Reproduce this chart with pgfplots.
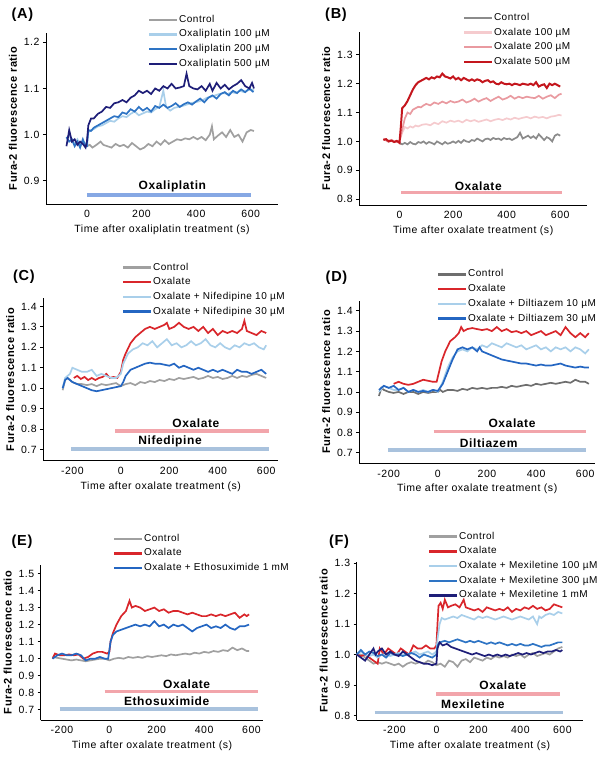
\documentclass[border=0pt]{standalone}
\usepackage{fontspec}
\setmainfont{Liberation Sans}[LetterSpace=5]
\usepackage{pgfplots}
\pgfplotsset{compat=1.18}
\definecolor{ctrl}{HTML}{A0A0A0}
\definecolor{ctrld}{HTML}{6E6E6E}
\definecolor{oxred}{HTML}{D9262B}
\definecolor{dred}{HTML}{C4161D}
\definecolor{pinkA}{HTML}{F5CBCE}
\definecolor{pinkB}{HTML}{E99AA0}
\definecolor{lblue}{HTML}{A9CFEA}
\definecolor{mblue}{HTML}{2E74C4}
\definecolor{bblue}{HTML}{2466C2}
\definecolor{navy}{HTML}{1E1E78}
\definecolor{barblue}{HTML}{86A8E4}
\definecolor{barpink}{HTML}{F2A5AB}
\definecolor{bargray}{HTML}{A9C2DD}
\tikzset{barlab/.style={font=\bfseries\fontsize{12}{13}\selectfont}}
\pgfplotsset{
  panel/.style={
    scale only axis, axis lines=left, axis line style={-, line width=0.9pt},
    tick align=outside, major tick length=3pt,
    ytick style={line width=0.8pt, black}, xtick style={draw=none},
    tick label style={font=\fontsize{10.5}{12}\selectfont},
    /pgf/number format/assume math mode=true,
    yticklabel style={/pgf/number format/fixed, /pgf/number format/fixed zerofill, /pgf/number format/precision=1},
    xlabel style={font=\fontsize{10.5}{12}\selectfont, yshift=0pt},
    ylabel style={font=\bfseries\fontsize{11}{12}\selectfont},
    ylabel={Fura-2 fluorescence ratio},
    xlabel={Time after oxalate treatment (s)},
    legend cell align=left,
    legend style={draw=none, fill=none, inner sep=0pt, anchor=north west,
      font=\fontsize{10}{11}\selectfont,
      nodes={inner xsep=0.5pt, inner ysep=0pt, text height=7pt, text depth=2pt},
      row sep=5.7pt},
    legend image code/.code={\draw[#1, line width=2.4pt] (0pt,0pt) -- (28pt,0pt);},
    every axis plot/.append style={line width=1.7pt},
    clip=false,
  },
  hbar/.style={line width=3.6pt, forget plot},
}
\begin{document}
\begin{tikzpicture}[x=1pt,y=1pt]
\useasboundingbox (0,0) rectangle (600,757);
\node[font=\bfseries\fontsize{14.5}{16}\selectfont] at (22.5,742) {(A)};
\node[font=\bfseries\fontsize{14.5}{16}\selectfont] at (336,742) {(B)};
\node[font=\bfseries\fontsize{14.5}{16}\selectfont] at (24,480) {(C)};
\node[font=\bfseries\fontsize{14.5}{16}\selectfont] at (336.5,479) {(D)};
\node[font=\bfseries\fontsize{14.5}{16}\selectfont] at (22,215) {(E)};
\node[font=\bfseries\fontsize{14.5}{16}\selectfont] at (339,215) {(F)};

% ---------------- A
\begin{axis}[panel, at={(46pt,553pt)}, anchor=south west, width=232pt, height=171pt,
  xmin=-150, xmax=700, ymin=0.85, ymax=1.22, xtick={0,200,400,600}, ytick={0.9,1.0,1.1,1.2},
  xlabel={Time after oxaliplatin treatment (s)},
  legend style={at={(0.44,1.105)}}]
\addplot[ctrl] coordinates {(0,0.975)(10,0.978)(20,0.972)(35,0.978)(50,0.985)(60,0.978)(75,0.975)(90,0.972)(105,0.980)(120,0.975)(135,0.978)(150,0.972)(165,0.982)(180,0.975)(195,0.968)(210,0.972)(225,0.980)(240,0.975)(255,0.985)(270,0.978)(285,0.988)(300,0.980)(315,0.985)(330,0.990)(345,0.988)(360,0.992)(375,0.990)(390,0.995)(405,0.990)(420,0.995)(435,0.988)(450,1.000)(458,1.018)(465,0.990)(480,0.998)(495,1.005)(510,0.995)(525,1.010)(540,0.995)(555,1.000)(570,0.985)(585,1.005)(600,1.010)(612,1.008)};
\addlegendentry{Control}
\addplot[lblue] coordinates {(-75,0.990)(-65,1.000)(-55,0.985)(-45,0.980)(-35,0.990)(-25,0.978)(-15,0.985)(-5,0.980)(0,0.985)(5,1.005)(15,1.010)(25,1.012)(40,1.018)(55,1.020)(70,1.025)(85,1.030)(100,1.028)(115,1.035)(130,1.040)(145,1.038)(160,1.045)(175,1.050)(190,1.042)(205,1.046)(220,1.050)(235,1.048)(250,1.055)(265,1.060)(280,1.095)(290,1.060)(305,1.052)(320,1.058)(335,1.060)(350,1.062)(365,1.065)(380,1.068)(395,1.070)(410,1.072)(425,1.075)(440,1.080)(455,1.082)(470,1.085)(485,1.088)(500,1.090)(515,1.088)(530,1.092)(545,1.090)(560,1.095)(575,1.092)(590,1.096)(605,1.098)(612,1.095)};
\addlegendentry{Oxaliplatin 100 µM}
\addplot[mblue] coordinates {(-75,0.995)(-65,0.985)(-55,0.990)(-45,0.975)(-35,0.985)(-25,0.972)(-15,0.990)(-5,0.975)(0,0.975)(5,1.010)(15,1.008)(25,1.015)(40,1.020)(55,1.025)(70,1.030)(85,1.035)(100,1.040)(115,1.038)(130,1.048)(145,1.045)(160,1.055)(175,1.050)(190,1.060)(205,1.052)(220,1.058)(235,1.050)(250,1.062)(265,1.058)(280,1.065)(295,1.058)(310,1.062)(325,1.068)(340,1.060)(355,1.066)(370,1.070)(385,1.065)(400,1.072)(415,1.078)(430,1.070)(445,1.080)(460,1.085)(475,1.078)(490,1.088)(505,1.092)(520,1.085)(535,1.095)(550,1.090)(565,1.098)(580,1.092)(595,1.100)(610,1.092)};
\addlegendentry{Oxaliplatin 200 µM}
\addplot[navy] coordinates {(-75,0.975)(-65,1.010)(-55,0.985)(-45,0.990)(-35,0.978)(-25,0.985)(-15,0.980)(-5,0.972)(0,0.985)(5,1.020)(15,1.035)(25,1.035)(40,1.045)(55,1.050)(70,1.060)(85,1.058)(100,1.068)(115,1.070)(130,1.075)(145,1.070)(160,1.080)(175,1.085)(190,1.095)(205,1.090)(220,1.095)(235,1.088)(250,1.100)(265,1.095)(280,1.105)(295,1.100)(310,1.110)(325,1.100)(340,1.102)(355,1.105)(365,1.132)(375,1.105)(390,1.100)(405,1.098)(420,1.105)(435,1.095)(450,1.110)(460,1.095)(475,1.112)(490,1.100)(505,1.108)(520,1.098)(535,1.105)(550,1.110)(565,1.118)(580,1.105)(595,1.100)(605,1.112)(612,1.100)};
\addlegendentry{Oxaliplatin 500 µM}
\addplot[hbar, barblue] coordinates {(0,0.870)(600,0.870)};
\node[barlab] at (axis cs:313,0.887) {Oxaliplatin};
\end{axis}

% ---------------- B
\begin{axis}[panel, at={(359.3pt,552pt)}, anchor=south west, width=227.7pt, height=173.3pt,
  xmin=-150, xmax=700, ymin=0.78, ymax=1.38, xtick={0,200,400,600}, ytick={0.8,0.9,1.0,1.1,1.2,1.3},
  legend style={at={(0.455,1.107)}}]
\addplot[ctrld!80] coordinates {(0,0.995)(10,0.990)(20,0.995)(30,0.990)(40,0.998)(50,0.992)(60,0.990)(70,0.998)(80,0.995)(90,1.000)(100,0.992)(110,0.998)(120,0.995)(130,0.990)(140,1.000)(150,0.995)(160,0.990)(170,0.998)(180,0.992)(190,0.995)(200,1.000)(210,0.995)(220,1.002)(230,0.995)(240,1.005)(250,1.000)(260,0.998)(270,1.005)(280,1.002)(290,1.010)(300,1.005)(310,1.000)(320,1.008)(330,1.010)(340,1.005)(350,1.012)(360,1.008)(370,1.010)(380,1.005)(390,1.012)(400,1.008)(410,1.010)(420,1.005)(430,1.010)(440,1.015)(450,1.030)(460,1.010)(470,1.015)(480,1.020)(490,1.012)(500,1.018)(510,1.010)(520,1.025)(530,1.015)(540,1.005)(550,1.015)(560,1.010)(570,1.000)(580,1.020)(590,1.025)(600,1.020)};
\addlegendentry{Control}
\addplot[pinkA] coordinates {(-60,1.010)(-45,1.002)(-30,1.006)(-15,0.998)(0,1.000)(10,1.030)(20,1.050)(30,1.045)(40,1.052)(50,1.048)(60,1.055)(70,1.052)(85,1.058)(100,1.060)(115,1.056)(130,1.065)(145,1.060)(160,1.070)(175,1.065)(190,1.072)(205,1.068)(220,1.072)(235,1.066)(250,1.075)(265,1.070)(280,1.074)(295,1.068)(310,1.072)(325,1.076)(340,1.070)(355,1.075)(370,1.078)(385,1.074)(400,1.080)(415,1.076)(430,1.082)(445,1.078)(460,1.082)(475,1.085)(490,1.080)(505,1.086)(520,1.082)(535,1.085)(550,1.080)(565,1.086)(580,1.088)(595,1.092)(605,1.090)};
\addlegendentry{Oxalate 100 µM}
\addplot[pinkB] coordinates {(-60,1.010)(-45,1.000)(-30,1.005)(-15,0.998)(0,1.000)(10,1.040)(20,1.080)(30,1.100)(40,1.095)(50,1.110)(60,1.115)(70,1.120)(80,1.118)(90,1.125)(100,1.130)(115,1.125)(130,1.135)(145,1.130)(160,1.138)(175,1.132)(190,1.140)(205,1.135)(220,1.138)(235,1.145)(250,1.135)(265,1.140)(280,1.148)(295,1.138)(310,1.145)(325,1.150)(340,1.140)(355,1.148)(370,1.155)(385,1.145)(400,1.150)(415,1.158)(430,1.148)(445,1.155)(460,1.150)(475,1.155)(490,1.152)(505,1.150)(520,1.158)(535,1.148)(550,1.155)(565,1.160)(580,1.150)(595,1.162)(605,1.165)};
\addlegendentry{Oxalate 200 µM}
\addplot[dred, line width=2pt] coordinates {(-60,1.005)(-50,1.008)(-40,1.000)(-30,1.003)(-20,0.998)(-10,1.002)(0,0.995)(5,1.050)(10,1.115)(20,1.125)(30,1.140)(40,1.160)(50,1.180)(60,1.195)(70,1.205)(80,1.210)(90,1.215)(100,1.220)(110,1.215)(120,1.222)(130,1.218)(140,1.225)(150,1.222)(160,1.235)(170,1.225)(180,1.222)(190,1.218)(200,1.225)(210,1.215)(220,1.220)(230,1.212)(240,1.220)(250,1.215)(260,1.210)(270,1.215)(280,1.210)(290,1.215)(300,1.212)(310,1.205)(320,1.210)(330,1.212)(340,1.205)(350,1.208)(360,1.200)(370,1.198)(380,1.205)(390,1.200)(400,1.198)(410,1.200)(420,1.195)(430,1.200)(440,1.198)(450,1.195)(460,1.200)(470,1.198)(480,1.196)(490,1.200)(500,1.195)(510,1.205)(520,1.190)(530,1.195)(540,1.198)(550,1.185)(560,1.200)(570,1.195)(580,1.200)(590,1.195)(600,1.190)};
\addlegendentry{Oxalate 500 µM}
\addplot[hbar, barpink] coordinates {(6,0.823)(606,0.823)};
\node[barlab] at (axis cs:294,0.844) {Oxalate};
\end{axis}

% ---------------- C
\begin{axis}[panel, at={(43.3pt,296.3pt)}, anchor=south west, width=235pt, height=162.4pt,
  xmin=-320, xmax=650, ymin=0.645, ymax=1.44, xtick={-200,0,200,400,600}, ytick={0.7,0.8,0.9,1.0,1.1,1.2,1.3,1.4},
  legend style={at={(0.335,1.218)}}]
\addplot[ctrl] coordinates {(-240,0.99)(-230,1.04)(-220,1.05)(-210,1.04)(-200,1.03)(-180,1.02)(-160,1.02)(-140,1.015)(-120,1.02)(-100,1.01)(-80,1.02)(-60,1.015)(-40,1.02)(-20,1.025)(0,1.01)(20,1.02)(40,1.025)(60,1.015)(80,1.03)(100,1.025)(120,1.035)(140,1.03)(160,1.04)(180,1.035)(200,1.045)(220,1.04)(240,1.05)(260,1.045)(280,1.05)(300,1.055)(320,1.045)(340,1.05)(360,1.06)(380,1.05)(400,1.055)(420,1.045)(440,1.05)(460,1.06)(480,1.05)(500,1.06)(520,1.055)(540,1.065)(560,1.07)(580,1.06)(600,1.05)};
\addlegendentry{Control}
\addplot[oxred] coordinates {(-194,1.05)(-180,1.06)(-165,1.045)(-150,1.055)(-135,1.04)(-120,1.05)(-105,1.04)(-90,1.05)(-75,1.055)(-60,1.07)(-45,1.05)(-30,1.055)(-15,1.05)(0,1.08)(10,1.14)(20,1.17)(40,1.22)(60,1.25)(80,1.27)(100,1.29)(120,1.30)(140,1.29)(160,1.30)(180,1.31)(190,1.32)(200,1.29)(220,1.30)(240,1.32)(260,1.30)(280,1.29)(300,1.30)(320,1.28)(340,1.30)(360,1.27)(380,1.29)(400,1.26)(420,1.28)(440,1.27)(460,1.28)(480,1.27)(500,1.29)(510,1.33)(520,1.28)(540,1.27)(560,1.26)(580,1.28)(600,1.27)};
\addlegendentry{Oxalate}
\addplot[lblue] coordinates {(-240,1.00)(-230,1.05)(-210,1.07)(-200,1.10)(-180,1.09)(-160,1.08)(-140,1.08)(-120,1.09)(-100,1.06)(-80,1.07)(-60,1.06)(-40,1.05)(-20,1.05)(0,1.07)(10,1.12)(30,1.17)(50,1.19)(70,1.20)(90,1.22)(110,1.21)(130,1.23)(150,1.20)(170,1.22)(190,1.24)(210,1.21)(230,1.22)(250,1.20)(270,1.21)(290,1.23)(310,1.21)(330,1.22)(350,1.24)(370,1.21)(390,1.20)(410,1.22)(430,1.20)(450,1.19)(470,1.21)(490,1.20)(510,1.22)(530,1.21)(550,1.22)(570,1.20)(590,1.19)(600,1.21)};
\addlegendentry{Oxalate + Nifedipine 10 µM}
\addplot[bblue] coordinates {(-240,1.00)(-230,1.04)(-220,1.05)(-210,1.04)(-200,1.03)(-180,1.02)(-160,1.01)(-140,1.00)(-120,0.99)(-100,0.985)(-80,0.99)(-60,0.995)(-40,1.00)(-20,1.005)(0,1.01)(10,1.03)(20,1.06)(40,1.09)(60,1.10)(80,1.11)(100,1.12)(120,1.125)(140,1.12)(160,1.12)(180,1.115)(200,1.11)(220,1.12)(240,1.10)(260,1.11)(280,1.10)(300,1.09)(320,1.10)(340,1.09)(360,1.08)(380,1.09)(400,1.08)(420,1.09)(440,1.08)(460,1.07)(480,1.09)(500,1.08)(520,1.08)(540,1.07)(560,1.08)(580,1.09)(600,1.07)};
\addlegendentry{Oxalate + Nifedipine 30 µM}
\addplot[hbar, barpink] coordinates {(-22,0.791)(610,0.791)};
\addplot[hbar, bargray] coordinates {(-206,0.701)(610,0.701)};
\node[barlab] at (axis cs:310,0.828) {Oxalate};
\node[barlab] at (axis cs:203,0.738) {Nifedipine};
\end{axis}

% ---------------- D
\begin{axis}[panel, at={(359.3pt,293.7pt)}, anchor=south west, width=235.7pt, height=162.6pt,
  xmin=-320, xmax=640, ymin=0.648, ymax=1.45, xtick={-200,0,200,400,600}, ytick={0.7,0.8,0.9,1.0,1.1,1.2,1.3,1.4},
  legend style={at={(0.33,1.19)}}]
\addplot[ctrld] coordinates {(-240,0.98)(-230,1.02)(-220,1.01)(-200,1.00)(-180,0.995)(-160,1.00)(-140,0.99)(-120,1.00)(-100,1.00)(-80,0.99)(-60,1.00)(-40,0.995)(-20,1.00)(0,1.00)(10,1.01)(20,1.00)(40,1.01)(60,1.01)(80,1.005)(100,1.015)(120,1.01)(140,1.02)(160,1.015)(180,1.02)(200,1.015)(220,1.02)(240,1.02)(260,1.025)(280,1.02)(300,1.03)(320,1.025)(340,1.03)(360,1.035)(380,1.03)(400,1.04)(420,1.035)(440,1.04)(460,1.045)(480,1.04)(500,1.045)(520,1.05)(540,1.045)(560,1.06)(580,1.05)(600,1.05)(615,1.04)};
\addlegendentry{Control}
\addplot[oxred] coordinates {(-180,1.04)(-160,1.05)(-140,1.04)(-120,1.035)(-100,1.04)(-80,1.05)(-60,1.06)(-40,1.055)(-20,1.05)(-5,1.05)(5,1.10)(15,1.15)(30,1.20)(50,1.25)(70,1.27)(85,1.29)(95,1.32)(105,1.30)(120,1.31)(140,1.315)(160,1.31)(180,1.305)(200,1.31)(220,1.30)(240,1.32)(260,1.30)(280,1.31)(300,1.295)(320,1.30)(340,1.29)(360,1.30)(380,1.28)(400,1.29)(420,1.30)(440,1.28)(460,1.29)(480,1.30)(500,1.28)(520,1.32)(540,1.29)(560,1.27)(580,1.29)(600,1.27)(615,1.29)};
\addlegendentry{Oxalate}
\addplot[lblue] coordinates {(-240,1.00)(-220,1.03)(-200,1.02)(-180,1.01)(-160,1.01)(-140,1.02)(-120,1.00)(-100,1.01)(-80,1.00)(-60,1.01)(-40,1.00)(-20,1.01)(0,1.00)(20,1.05)(40,1.12)(60,1.17)(80,1.20)(100,1.21)(120,1.20)(140,1.22)(160,1.21)(180,1.23)(200,1.22)(220,1.24)(240,1.23)(260,1.22)(280,1.24)(300,1.23)(320,1.22)(340,1.23)(360,1.21)(380,1.22)(400,1.23)(420,1.21)(440,1.22)(460,1.20)(480,1.22)(500,1.21)(520,1.22)(540,1.20)(560,1.22)(580,1.21)(600,1.19)(615,1.21)};
\addlegendentry{Oxalate + Diltiazem 10 µM}
\addplot[bblue] coordinates {(-240,1.01)(-220,1.03)(-200,1.02)(-180,1.03)(-160,1.01)(-140,1.02)(-120,1.00)(-100,1.01)(-80,1.00)(-60,1.005)(-40,1.00)(-20,1.01)(0,1.005)(20,1.04)(40,1.10)(60,1.16)(80,1.21)(100,1.22)(120,1.21)(140,1.22)(160,1.20)(170,1.22)(180,1.20)(200,1.19)(220,1.18)(240,1.17)(260,1.16)(280,1.155)(300,1.15)(320,1.145)(340,1.14)(360,1.14)(380,1.135)(400,1.13)(420,1.135)(440,1.13)(460,1.13)(480,1.135)(500,1.14)(520,1.13)(540,1.125)(560,1.12)(580,1.125)(600,1.12)(615,1.12)};
\addlegendentry{Oxalate + Diltiazem 30 µM}
\addplot[hbar, barpink] coordinates {(-17,0.804)(604,0.804)};
\addplot[hbar, bargray] coordinates {(-204,0.713)(604,0.713)};
\node[barlab] at (axis cs:302,0.845) {Oxalate};
\node[barlab] at (axis cs:207,0.749) {Diltiazem};
\end{axis}

% ---------------- E
\begin{axis}[panel, at={(40.7pt,37pt)}, anchor=south west, width=222.6pt, height=155pt,
  xmin=-290, xmax=650, ymin=0.64, ymax=1.55, xtick={-200,0,200,400,600}, ytick={0.7,0.8,0.9,1.0,1.1,1.2,1.3,1.4,1.5},
  legend style={at={(0.325,1.2)}}]
\addplot[ctrl] coordinates {(-240,1.01)(-220,1.005)(-200,1.00)(-180,0.995)(-160,0.99)(-140,0.995)(-120,0.99)(-100,0.985)(-80,0.99)(-60,0.995)(-40,1.00)(-20,1.00)(0,0.99)(20,1.00)(40,1.005)(60,1.00)(80,1.01)(100,1.005)(120,1.01)(140,1.005)(160,1.015)(180,1.01)(200,1.015)(220,1.02)(240,1.015)(260,1.025)(280,1.02)(300,1.025)(320,1.03)(340,1.025)(360,1.035)(380,1.03)(400,1.04)(420,1.035)(440,1.045)(460,1.04)(480,1.05)(500,1.045)(520,1.065)(540,1.05)(560,1.06)(580,1.045)(590,1.045)};
\addlegendentry{Control}
\addplot[oxred] coordinates {(-240,1.00)(-230,1.03)(-210,1.02)(-190,1.02)(-170,1.025)(-150,1.02)(-130,1.025)(-110,1.00)(-90,1.01)(-70,1.03)(-50,1.04)(-30,1.04)(-10,1.03)(0,1.04)(5,1.10)(15,1.15)(30,1.20)(50,1.25)(70,1.28)(85,1.34)(95,1.30)(110,1.31)(130,1.30)(150,1.28)(170,1.29)(190,1.30)(210,1.28)(230,1.29)(250,1.27)(270,1.28)(290,1.28)(310,1.27)(330,1.26)(350,1.27)(370,1.26)(390,1.25)(410,1.25)(430,1.26)(450,1.25)(470,1.26)(490,1.25)(510,1.26)(530,1.27)(550,1.24)(570,1.26)(580,1.25)(590,1.26)};
\addlegendentry{Oxalate}
\addplot[bblue] coordinates {(-240,1.00)(-220,1.02)(-200,1.03)(-180,1.02)(-160,1.02)(-140,1.03)(-120,1.02)(-100,0.99)(-80,1.00)(-60,1.00)(-40,1.01)(-20,1.00)(-5,1.00)(5,1.10)(15,1.14)(30,1.16)(50,1.17)(70,1.18)(90,1.19)(110,1.20)(130,1.19)(150,1.20)(170,1.19)(190,1.22)(210,1.19)(230,1.20)(250,1.18)(270,1.20)(290,1.19)(310,1.20)(330,1.18)(350,1.16)(370,1.18)(390,1.19)(410,1.20)(430,1.18)(450,1.19)(470,1.18)(490,1.20)(510,1.18)(530,1.17)(550,1.19)(570,1.19)(590,1.20)};
\addlegendentry{Oxalate + Ethosuximide 1 mM}
\addplot[hbar, barpink] coordinates {(-20,0.807)(628,0.807)};
\addplot[hbar, bargray] coordinates {(-210,0.704)(628,0.704)};
\node[barlab] at (axis cs:326,0.852) {Oxalate};
\node[barlab] at (axis cs:242,0.748) {Ethosuximide};
\end{axis}

% ---------------- F
\begin{axis}[panel, at={(356.7pt,37pt)}, anchor=south west, width=226.6pt, height=158.3pt,
  xmin=-380, xmax=700, ymin=0.785, ymax=1.305, xtick={-200,0,200,400,600}, ytick={0.8,0.9,1.0,1.1,1.2,1.3},
  legend style={at={(0.315,1.188)}}]
\addplot[ctrl] coordinates {(-380,1.00)(-360,1.00)(-340,0.99)(-320,0.98)(-300,0.97)(-280,0.975)(-260,0.97)(-240,0.975)(-220,0.97)(-200,0.965)(-180,0.97)(-160,0.96)(-140,0.97)(-120,0.975)(-100,0.97)(-80,0.975)(-60,0.97)(-40,0.98)(-20,0.975)(0,0.965)(20,0.97)(40,0.96)(60,0.98)(80,0.975)(100,0.96)(120,0.98)(140,0.985)(160,0.975)(180,0.99)(200,0.985)(220,0.98)(240,0.99)(260,0.985)(280,0.995)(300,0.99)(320,0.995)(340,0.99)(360,1.00)(380,0.995)(400,1.00)(420,0.99)(440,1.00)(460,1.005)(480,0.995)(500,1.00)(520,1.005)(540,1.00)(560,1.01)(580,1.02)(600,1.025)};
\addlegendentry{Control}
\addplot[oxred] coordinates {(-380,1.00)(-360,0.995)(-340,1.00)(-320,0.99)(-300,0.98)(-280,0.97)(-270,1.02)(-250,1.00)(-230,1.02)(-210,1.01)(-190,1.00)(-170,1.02)(-150,1.01)(-130,1.00)(-110,1.03)(-90,1.02)(-70,1.02)(-50,1.03)(-30,1.02)(-10,1.02)(0,1.03)(5,1.10)(10,1.16)(20,1.17)(30,1.15)(40,1.18)(55,1.155)(70,1.16)(90,1.165)(110,1.155)(130,1.18)(140,1.155)(160,1.15)(180,1.145)(200,1.15)(220,1.14)(240,1.155)(260,1.15)(280,1.145)(300,1.15)(320,1.145)(340,1.155)(360,1.14)(380,1.15)(400,1.145)(420,1.155)(440,1.15)(460,1.16)(480,1.15)(500,1.155)(520,1.145)(540,1.15)(560,1.165)(580,1.16)(600,1.155)};
\addlegendentry{Oxalate}
\addplot[lblue] coordinates {(-380,1.00)(-360,1.01)(-340,1.00)(-320,0.995)(-300,1.00)(-280,0.99)(-260,1.00)(-240,1.00)(-220,0.995)(-200,1.00)(-180,1.005)(-160,1.00)(-140,1.00)(-120,1.005)(-100,1.01)(-80,1.00)(-60,1.005)(-40,1.01)(-20,1.00)(0,1.01)(5,1.05)(15,1.10)(25,1.12)(40,1.115)(60,1.12)(80,1.125)(100,1.12)(120,1.13)(140,1.125)(160,1.12)(180,1.115)(200,1.125)(220,1.12)(240,1.125)(260,1.12)(280,1.115)(300,1.12)(320,1.125)(340,1.12)(360,1.115)(380,1.12)(400,1.125)(420,1.12)(440,1.115)(460,1.125)(480,1.10)(490,1.125)(500,1.12)(520,1.13)(540,1.135)(560,1.13)(580,1.14)(600,1.135)};
\addlegendentry{Oxalate + Mexiletine 100 µM}
\addplot[mblue] coordinates {(-380,1.00)(-360,1.015)(-340,1.00)(-320,1.01)(-300,1.005)(-280,0.995)(-260,1.00)(-240,0.99)(-220,1.005)(-200,1.00)(-180,1.00)(-160,0.995)(-140,1.00)(-120,1.005)(-100,1.00)(-80,0.99)(-60,1.00)(-40,0.995)(-20,0.99)(0,1.00)(5,1.03)(15,1.04)(40,1.045)(60,1.04)(80,1.045)(100,1.05)(120,1.045)(140,1.04)(160,1.045)(180,1.04)(200,1.045)(220,1.04)(240,1.035)(260,1.04)(280,1.035)(300,1.04)(320,1.035)(340,1.03)(360,1.035)(380,1.03)(400,1.035)(420,1.03)(440,1.03)(460,1.035)(480,1.03)(500,1.025)(520,1.03)(540,1.03)(560,1.035)(580,1.04)(600,1.04)};
\addlegendentry{Oxalate + Mexiletine 300 µM}
\addplot[navy] coordinates {(-380,1.00)(-360,0.99)(-340,0.98)(-320,1.00)(-300,1.02)(-290,1.00)(-280,1.01)(-260,1.02)(-240,1.00)(-220,1.01)(-200,1.00)(-180,0.995)(-160,1.01)(-140,1.00)(-120,0.99)(-100,0.98)(-80,0.975)(-60,0.97)(-40,0.97)(-20,0.965)(0,0.97)(5,1.02)(15,1.04)(30,1.03)(50,1.035)(70,1.025)(90,1.02)(110,1.015)(130,1.01)(150,1.005)(170,1.00)(190,1.005)(210,1.00)(230,0.995)(250,1.00)(270,0.995)(290,1.00)(310,0.995)(330,1.00)(350,0.995)(370,1.00)(390,1.005)(410,1.00)(430,1.005)(450,1.00)(470,1.005)(490,1.01)(510,1.005)(530,1.01)(550,1.01)(570,1.015)(590,1.01)(600,1.015)};
\addlegendentry{Oxalate + Mexiletine 1 mM}
\addplot[hbar, barpink] coordinates {(0,0.871)(587,0.871)};
\addplot[hbar, bargray] coordinates {(-294,0.810)(603,0.810)};
\node[barlab] at (axis cs:317,0.898) {Oxalate};
\node[barlab] at (axis cs:174,0.838) {Mexiletine};
\end{axis}
\end{tikzpicture}
\end{document}
